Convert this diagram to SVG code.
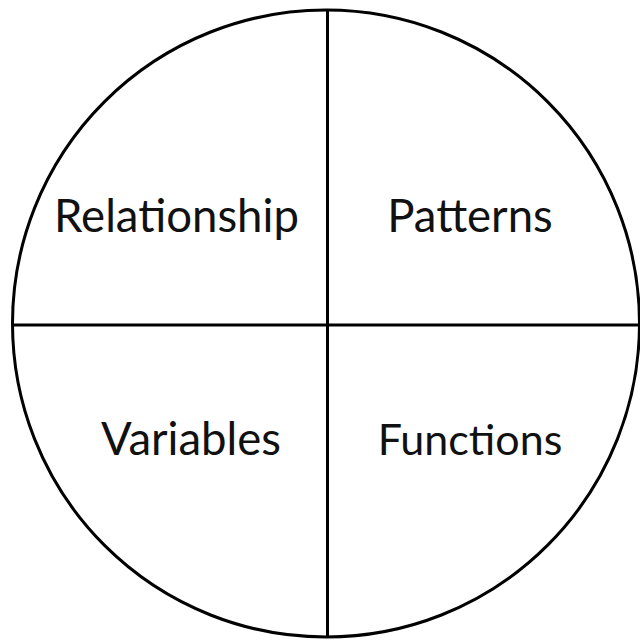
<svg xmlns="http://www.w3.org/2000/svg" width="640" height="640" viewBox="0 0 640 640">
<style>
.ln{fill:none;stroke:#000;stroke-width:3}
.t{font-family:Lato,"Open Sans",sans-serif;font-size:45.5px;fill:#111;text-anchor:middle}
</style>
<rect width="640" height="640" fill="#fff"/>
<g id="circle"><circle class="ln" cx="326" cy="323.5" r="313.5"/></g>
<g id="connectors">
<line class="ln" x1="327.5" y1="10" x2="327.5" y2="637"/>
<line class="ln" x1="12.5" y1="325" x2="640" y2="325"/>
</g>
<g id="relationship"><text class="t" x="176.5" y="232">Relationship</text></g>
<g id="patterns"><text class="t" x="470" y="232">Patterns</text></g>
<g id="variables"><text class="t" x="191" y="455">Variables</text></g>
<g id="functions"><text class="t" x="470" y="455" style="font-size:43px">Functions</text></g>
</svg>
